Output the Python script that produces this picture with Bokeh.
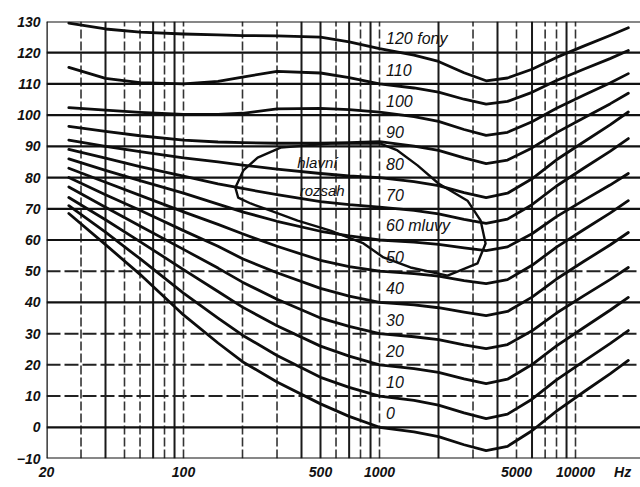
from bokeh.plotting import figure
from bokeh.models import FixedTicker, Range1d
from bokeh.core.properties import value
from bokeh.embed import file_html
from bokeh.resources import INLINE

# ---------------- data ----------------
freq = [26, 40, 60, 100, 150, 200, 300, 500, 700, 1000, 1500, 2000, 2700, 3500,
        4500, 6000, 8000, 11000, 15000, 18600]

phon_0   = [68.5, 58.5, 49.0, 36.0, 27.0, 21.0, 14.5, 7.5, 3.5, 0.0, -1.5, -3.0, -5.6, -7.5,
            -6.1, -1.1, 5.2, 11.3, 17.1, 21.4]
phon_10  = [71.0, 62.5, 54.0, 43.0, 35.0, 29.5, 23.0, 16.0, 12.8, 10.0, 8.6, 7.1, 4.6, 2.8,
            4.2, 9.0, 15.2, 21.1, 26.8, 31.0]
phon_20  = [73.6, 66.5, 59.5, 50.5, 43.5, 38.5, 32.5, 26.0, 22.8, 20.0, 18.8, 17.6, 15.5, 14.0,
            15.4, 20.1, 26.1, 31.9, 37.5, 41.6]
phon_30  = [77.0, 70.5, 64.5, 57.0, 51.0, 46.5, 41.0, 35.0, 32.3, 30.0, 29.0, 28.1, 26.4, 25.2,
            26.5, 30.9, 36.6, 42.1, 47.3, 51.2]
phon_40  = [80.0, 74.5, 69.5, 63.0, 58.0, 54.0, 49.5, 44.5, 42.0, 40.0, 39.2, 38.3, 36.9, 35.8,
            37.1, 41.7, 47.5, 53.1, 58.4, 62.4]
phon_50  = [83.0, 78.5, 74.3, 69.0, 65.0, 62.0, 58.0, 53.5, 51.5, 50.0, 49.2, 48.4, 47.0, 46.0,
            47.3, 51.9, 57.7, 63.3, 68.6, 72.6]
phon_60  = [86.0, 82.3, 79.0, 75.0, 71.5, 69.0, 66.0, 62.8, 61.3, 60.0, 59.3, 58.6, 57.5, 56.6,
            57.8, 62.0, 67.5, 72.7, 77.6, 81.3]
phon_70  = [89.0, 86.2, 83.5, 80.5, 78.0, 76.5, 74.5, 72.3, 71.3, 70.5, 69.5, 68.4, 66.6, 65.3,
            66.7, 71.3, 77.3, 83.0, 88.4, 92.5]
phon_80  = [92.0, 90.0, 88.3, 86.3, 85.0, 84.0, 82.7, 81.3, 80.5, 80.0, 78.7, 77.4, 75.2, 73.6,
            75.0, 79.6, 85.7, 91.4, 96.9, 101.0]
phon_90  = [96.4, 94.8, 93.4, 92.0, 91.4, 91.2, 91.0, 91.0, 91.2, 91.5, 90.1, 88.7, 86.3, 84.5,
            85.6, 89.5, 94.4, 99.1, 103.6, 107.0]
phon_100 = [102.4, 101.6, 100.9, 100.2, 100.2, 100.6, 102.0, 102.2, 101.8, 101.0, 99.5, 98.0, 95.4, 93.5,
            94.5, 97.9, 102.2, 106.4, 110.3, 113.3]
phon_110 = [115.3, 111.8, 110.4, 110.0, 110.8, 112.2, 114.0, 113.5, 112.0, 110.0, 108.7, 107.4, 105.1, 103.5,
            104.4, 107.3, 111.1, 114.7, 118.1, 120.7]
phon_120 = [129.5, 127.6, 126.6, 126.0, 125.7, 125.5, 125.4, 125.0, 123.5, 121.3, 119.2, 117.2, 113.6, 111.0,
            111.9, 114.7, 118.5, 122.1, 125.5, 128.0]

curves = [phon_0, phon_10, phon_20, phon_30, phon_40, phon_50, phon_60,
          phon_70, phon_80, phon_90, phon_100, phon_110, phon_120]
phon_levels = [0, 10, 20, 30, 40, 50, 60, 70, 80, 90, 100, 110, 120]
curve_labels = ["0", "10", "20", "30", "40", "50", "60 mluvy", "70", "80", "90", "100", "110", "120 fony"]

# main speech range loop ("hlavní rozsah mluvy")
loop_freq = [1012, 562, 313, 239, 202, 184, 190, 220, 278, 382, 562, 829, 1048, 1439,
             2223, 3163, 3477, 3282, 2812, 2000, 1563, 1235, 1012]
loop_db = [90.9, 90.9, 89.6, 86.4, 82.3, 76.8, 73.6, 71.7, 69.4, 66.2, 63.0, 58.9, 54.4, 51.2,
           48.6, 52.5, 58.9, 66.2, 72.6, 78.1, 83.9, 88.7, 90.9]

y_ticks = [-10, 0, 10, 20, 30, 40, 50, 60, 70, 80, 90, 100, 110, 120, 130]
x_ticks = [20, 100, 500, 1000, 5000, 10000, 17400]
x_tick_labels = ["20", "100", "500", "1000", "5000", "10000", "Hz"]

grid_v_solid = [40, 70, 90, 400, 500, 700, 900, 2000, 4000, 6000, 9000]
grid_v_dashed = [30, 50, 60, 80, 100, 200, 300, 600, 800, 1000, 3000, 5000, 7000, 8000, 10000]
grid_h_solid = [-10, 0, 40, 60, 70, 80, 90, 100, 110, 120, 130]
grid_h_dashed = [10, 20, 30, 50]

X_MIN, X_MAX = 20, 21460
Y_MIN, Y_MAX = -10, 130

# ---------------- figure ----------------
p = figure(width=640, height=487, x_axis_type="log",
           x_range=Range1d(X_MIN, X_MAX), y_range=Range1d(Y_MIN, Y_MAX),
           output_backend="svg", toolbar_location=None,
           min_border_left=46, min_border_right=0, min_border_top=21, min_border_bottom=29)
p.outline_line_color = None
p.xgrid.visible = False
p.ygrid.visible = False
p.background_fill_color = "white"
p.border_fill_color = "white"

FONT = "Liberation Sans"

for ax in (p.xaxis[0], p.yaxis[0]):
    ax.axis_line_color = None
    ax.major_tick_line_color = None
    ax.minor_tick_line_color = None
    ax.major_tick_out = 0
    ax.major_tick_in = 0
    ax.minor_tick_out = 0
    ax.major_label_text_font = FONT
    ax.major_label_text_font_style = "bold italic"
    ax.major_label_text_font_size = "14px"
    ax.major_label_text_color = "#111111"

p.yaxis.ticker = FixedTicker(ticks=y_ticks)
p.yaxis.major_label_standoff = 6
p.xaxis.ticker = FixedTicker(ticks=x_ticks)
p.xaxis.major_label_overrides = {t: s for t, s in zip(x_ticks, x_tick_labels)}
p.xaxis.major_label_standoff = 5

# grid
p.segment(x0=grid_v_solid, y0=[Y_MIN] * len(grid_v_solid), x1=grid_v_solid, y1=[Y_MAX] * len(grid_v_solid),
          line_color="#1a1a1a", line_width=2)
p.segment(x0=grid_v_dashed, y0=[Y_MIN] * len(grid_v_dashed), x1=grid_v_dashed, y1=[Y_MAX] * len(grid_v_dashed),
          line_color="#333333", line_width=1.6, line_dash="9 3")
p.segment(x0=[X_MIN] * len(grid_h_solid), y0=grid_h_solid, x1=[X_MAX] * len(grid_h_solid), y1=grid_h_solid,
          line_color="#111111", line_width=2.2)
p.segment(x0=[X_MIN] * len(grid_h_dashed), y0=grid_h_dashed, x1=[X_MAX] * len(grid_h_dashed), y1=grid_h_dashed,
          line_color="#222222", line_width=2, line_dash="14 4")
p.segment(x0=[X_MIN], y0=[Y_MIN], x1=[X_MIN], y1=[Y_MAX], line_color="#111111", line_width=2.5)

# curves
for c in curves:
    p.line(freq, c, line_color="#0d0d0d", line_width=2.8, line_join="round", line_cap="round")

# speech loop
p.line(loop_freq, loop_db, line_color="#0d0d0d", line_width=2.4, line_join="round")

# labels
p.text(x=[1080] * len(phon_levels), y=[lv + 4.5 for lv in phon_levels], text=curve_labels,
       text_font=value(FONT), text_font_style="italic", text_font_size="16px",
       text_baseline="middle", text_align="left", text_color="#111111")
p.text(x=[482, 510], y=[84.8, 75.9], text=["hlavní", "rozsah"],
       text_font=value(FONT), text_font_style="italic", text_font_size="15px",
       text_baseline="middle", text_align="center", text_color="#111111")

open("out.html", "w").write(file_html(p, INLINE))
